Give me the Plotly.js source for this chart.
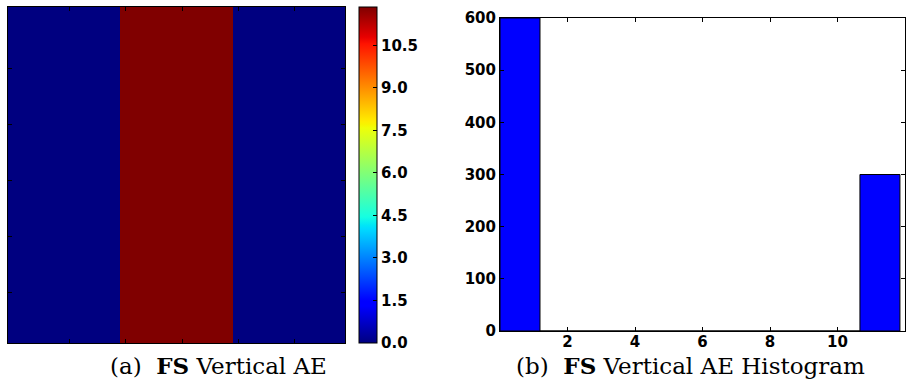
<!DOCTYPE html>
<html><head><meta charset="utf-8">
<script src="https://cdn.plot.ly/plotly-3.0.1.min.js"></script>
<style>html,body{margin:0;padding:0;background:#fff}</style>
</head><body><div id="plot" style="width:915px;height:381px"></div>
<script>
// Per-column value of the 30x30 vertical AE map (every row identical)
const columnValues = [0,0,0,0,0,0,0,0,0,0, 11.85,11.85,11.85,11.85,11.85,11.85,11.85,11.85,11.85,11.85, 0,0,0,0,0,0,0,0,0,0];
const nRows = 30;
const nBins = 10;
const cbTickVals = [0, 1.5, 3, 4.5, 6, 7.5, 9, 10.5];
const cbTickText = ['0.0','1.5','3.0','4.5','6.0','7.5','9.0','10.5'];
const histTickVals = [2, 4, 6, 8, 10, 12];
const histYTicks = [0, 100, 200, 300, 400, 500, 600];
const captionA = '(a)&nbsp; <b>FS</b> Vertical AE';
const captionB = '(b)&nbsp; <b>FS</b> Vertical AE Histogram';

const z = [];
for (let r = 0; r < nRows; r++) z.push(columnValues.slice());
const flat = z.flat();
const zmin = Math.min(...flat), zmax = Math.max(...flat);

// histogram counts (last bin inclusive, like numpy)
const binSize = (zmax - zmin) / nBins;
const counts = new Array(nBins).fill(0);
flat.forEach(v => { let i = Math.floor((v - zmin) / binSize); if (i >= nBins) i = nBins - 1; counts[i]++; });
const binLeft = counts.map((c, i) => zmin + i * binSize);

const jet = [
  [0, 'rgb(0,0,128)'], [0.11, 'rgb(0,0,255)'], [0.125, 'rgb(0,0,255)'],
  [0.34, 'rgb(0,219,255)'], [0.35, 'rgb(0,230,247)'], [0.375, 'rgb(21,255,226)'],
  [0.64, 'rgb(239,255,8)'], [0.65, 'rgb(247,245,0)'], [0.66, 'rgb(255,236,0)'],
  [0.89, 'rgb(255,19,0)'], [0.91, 'rgb(232,0,0)'], [1, 'rgb(128,0,0)']
];
const tickFont = {family: 'DejaVu Sans', size: 15, color: '#000', weight: 'bold'};
const capFont = {family: 'DejaVu Serif', size: 23, color: '#000'};
const H = 381, W = 915;
const py = v => 1 - v / H, px = v => v / W;

const heat = {
  type: 'heatmap', z: z, zmin: zmin, zmax: zmax, colorscale: jet,
  xaxis: 'x', yaxis: 'y', hoverinfo: 'skip',
  colorbar: {
    x: px(359), xanchor: 'left', y: py(343), yanchor: 'bottom',
    len: (343 - 7) / H, lenmode: 'fraction', thickness: 18, thicknessmode: 'pixels',
    outlinewidth: 1, outlinecolor: '#000', xpad: 0, ypad: 0,
    tickvals: cbTickVals, ticktext: cbTickText, ticks: 'inside', ticklen: 4,
    tickcolor: '#000', tickfont: tickFont
  }
};
const hist = {
  type: 'bar', x: binLeft, y: counts, width: binSize, offset: 0, xaxis: 'x2', yaxis: 'y2',
  marker: {color: 'rgb(0,0,255)', line: {color: '#000', width: 1}},
  hoverinfo: 'skip'
};

const layout = {
  width: W, height: H, margin: {l: 0, r: 0, t: 0, b: 0},
  paper_bgcolor: '#fff', plot_bgcolor: '#fff', showlegend: false,
  xaxis: {domain: [px(8), px(345)], range: [-0.5, 29.5], showticklabels: false,
    tickvals: [5, 10, 15, 20, 25], ticks: 'inside', ticklen: 4, tickcolor: '#000',
    showgrid: false, zeroline: false, showline: true, mirror: 'ticks', linecolor: '#000', linewidth: 1},
  yaxis: {domain: [py(343), py(7)], range: [29.5, -0.5], showticklabels: false,
    tickvals: [5, 10, 15, 20, 25], ticks: 'inside', ticklen: 4, tickcolor: '#000',
    showgrid: false, zeroline: false, showline: true, mirror: 'ticks', linecolor: '#000', linewidth: 1},
  xaxis2: {domain: [px(500), px(905)], range: [0, 12], anchor: 'y2',
    tickvals: histTickVals, ticks: 'inside', ticklen: 4, tickcolor: '#000', tickfont: tickFont,
    ticklabelstandoff: -3,
    showgrid: false, zeroline: false, showline: true, mirror: 'ticks', linecolor: '#000', linewidth: 1},
  yaxis2: {domain: [py(331), py(18)], range: [0, 600], anchor: 'x2',
    tickvals: histYTicks, ticks: 'inside', ticklen: 4, tickcolor: '#000', tickfont: tickFont,
    showgrid: false, zeroline: false, showline: true, mirror: 'ticks', linecolor: '#000', linewidth: 1},
  bargap: 0,
  annotations: [
    {text: captionA, xref: 'paper', yref: 'paper', x: px(218), y: py(380), xanchor: 'center', yanchor: 'bottom',
     borderpad: 0, showarrow: false, font: capFont},
    {text: captionB, xref: 'paper', yref: 'paper', x: px(690), y: py(380), xanchor: 'center', yanchor: 'bottom',
     borderpad: 0, showarrow: false, font: capFont}
  ]
};
Plotly.newPlot('plot', [heat, hist], layout, {displayModeBar: false, staticPlot: true});
</script></body></html>
